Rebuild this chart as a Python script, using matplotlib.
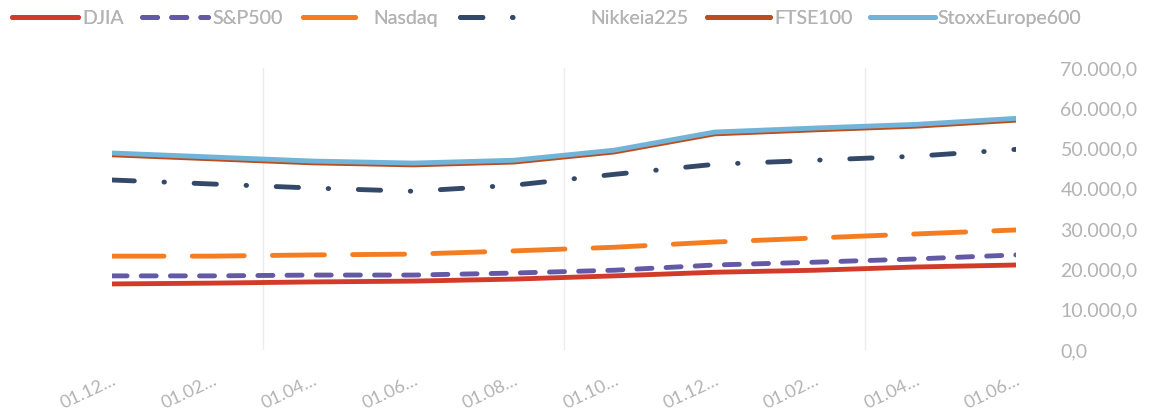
import matplotlib.pyplot as plt
import numpy as np

plt.rcParams['font.family'] = ['Lato', 'DejaVu Sans']

# categories (month labels, truncated like the original)
labels = ["01.12…", "01.02…", "01.04…", "01.06…", "01.08…",
          "01.10…", "01.12…", "01.02…", "01.04…", "01.06…"]

# stacked line values as seen on the chart
djia   = [16400, 16600, 16900, 17100, 17600, 18400, 19300, 19800, 20600, 21100]
sp500  = [18400, 18400, 18600, 18600, 19100, 19800, 21100, 21800, 22600, 23600]
nasdaq = [23300, 23300, 23600, 23800, 24600, 25500, 26800, 27800, 28800, 29800]
nikkei = [42200, 41200, 40200, 39400, 40900, 43600, 46100, 47100, 48100, 49800]
ftse   = [48450, 47450, 46450, 45950, 46650, 49150, 53650, 54650, 55550, 57050]
stoxx  = [48900, 47900, 46900, 46400, 47100, 49600, 54100, 55100, 56000, 57500]

yticks = [0, 10000, 20000, 30000, 40000, 50000, 60000, 70000]
ytick_labels = ["0,0", "10.000,0", "20.000,0", "30.000,0",
                "40.000,0", "50.000,0", "60.000,0", "70.000,0"]

txt = "#b3b3b3"

fig = plt.figure(figsize=(11.53, 4.16), dpi=100)
ax = fig.add_axes([112/1153, 1-350/416, (1016-112)/1153, (350-68)/416])

x = np.arange(len(labels))
lw = 3.5

l1, = ax.plot(x, djia, color="#d23b2a", lw=lw, solid_capstyle="round")
l2, = ax.plot(x, sp500, color="#6459a6", lw=lw, dashes=(3.1, 2.9), dash_capstyle="round")
l3, = ax.plot(x, nasdaq, color="#f47d22", lw=lw, dashes=(10.7, 5.8), dash_capstyle="round")
l4, = ax.plot(x, nikkei, color="#34496a", lw=lw, dashes=(4.6, 6.1, 0.1, 6.1), dash_capstyle="round")
l5, = ax.plot(x, ftse, color="#bb4e1e", lw=lw, solid_capstyle="round")
l6, = ax.plot(x, stoxx, color="#72b4d9", lw=lw, solid_capstyle="round")

ax.set_xlim(0, 9)
ax.set_ylim(0, 70000)

# faint vertical grid
ax.set_xticks(x)
ax.set_xticks([0, 1.5, 3, 4.5, 6, 7.5, 9], minor=True)
ax.grid(True, which="minor", axis="x", color="#ececec", lw=1)
ax.tick_params(which="minor", length=0)

ax.set_xticklabels(labels, rotation=25, ha="right", rotation_mode="anchor",
                   color=txt, fontsize=13)
ax.tick_params(axis="x", length=0, pad=16)

ax.yaxis.tick_right()
ax.set_yticks(yticks)
ax.set_yticklabels(ytick_labels, color=txt, fontsize=14)
ax.tick_params(axis="y", length=0, pad=32)

for s in ax.spines.values():
    s.set_visible(False)

# legend entries laid out across the top like the original
# (handle, label, left x px, handle length px, text pad px)
entries = [(l1, "DJIA", 12, 66, 4), (l2, "S&P500", 142, 66, 4), (l3, "Nasdaq", 303, 66, 4),
           (l4, "Nikkeia225", 460, 66, 64), (l5, "FTSE100", 707, 63, 4),
           (l6, "StoxxEurope600", 870, 65, 2)]
fs = 14
em = fs * 100 / 72
for h, name, x0, hl, tp in entries:
    lg = fig.legend([h], [name], loc="upper left", bbox_to_anchor=(x0/1153, 1-10/416),
                    frameon=False, fontsize=fs, handlelength=hl/em, handletextpad=tp/em,
                    borderpad=0, borderaxespad=0, labelcolor=txt)
    fig.add_artist(lg)

fig.savefig("out.png", dpi=100)
